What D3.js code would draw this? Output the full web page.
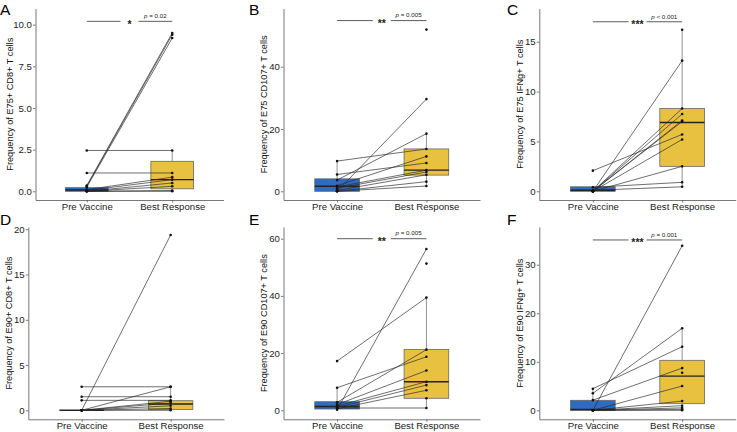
<!DOCTYPE html>
<html>
<head>
<meta charset="utf-8">
<script src="https://cdn.jsdelivr.net/npm/d3@7"></script>
<style>
  html, body { margin: 0; padding: 0; background: #fff; }
  svg { display: block; font-family: "Liberation Sans", Arial, Helvetica, sans-serif; }
</style>
</head>
<body>
<svg id="chart" width="737" height="432"></svg>
<script>
// ---------------- DATA ----------------
const categories = ["Pre Vaccine", "Best Response"];
const panelLetters = ["A", "B", "C", "D", "E", "F"];
const yTitles = [
  "Frequency of E75+ CD8+ T cells",
  "Frequency of E75 CD107+ T cells",
  "Frequency of E75 IFNg+ T cells",
  "Frequency of E90+ CD8+ T cells",
  "Frequency of E90 CD107+ T cells",
  "Frequency of E90 IFNg+ T cells"
];

// paired values per patient (pre vaccine, best response)
const preA  = [2.45, 1.1, 0.35, 0.3, 0.25, 0.1, 0.05, 0, 0, 0, 0];
const bestA = [2.45, 1.1, 9.5, 9.4, 9.2, 0.85, 0.7, 0.5, 0.3, 0.05, 0];
const preB  = [9.7, 5.4, 3.6, 1.8, 1.4, 1.0, 0.3, 0, 0, 0];
const bestB = [13.6, 9.1, 18.5, 11.2, 6.8, 6.2, 5.3, 29.6, 3.1, 1.7];
const preC  = [0, 0, 0, 0, 2.07, 0, 0, 0.4, 0.1, 0];
const bestC = [13.1, 8.3, 7.75, 7.1, 5.7, 5.2, 2.5, 0.9, 0.45, 7.0];
const preD  = [2.6, 1.5, 1.1, 0, 0, 0, 0, 0, 0, 0];
const bestD = [2.6, 1.5, 1.1, 19.37, 2.6, 1.0, 0.8, 0.5, 0.2, 0];
const preE  = [17.2, 7.9, 0.2, 2.8, 2.0, 1.5, 1.0, 0.5, 0.8];
const bestE = [39.4, 18.7, 56.4, 21.2, 13.9, 10.0, 8.8, 7.0, 0.8];
const preF  = [0, 3.5, 4.45, 2.1, 0, 0, 0, 0, 0, 0];
const bestF = [33.9, 16.9, 13.1, 8.7, 5.0, 1.9, 0.95, 0.5, 0.2, 0];

// best-response values without a paired pre value
const unpairedA = [];
const unpairedB = [51.9];
const unpairedC = [16.2];
const unpairedD = [];
const unpairedE = [51.3, 4.2];
const unpairedF = [7.75];

// box statistics [lower whisker, q1, median, q3, upper whisker]
const boxPreA  = [0, 0, 0.08, 0.22, 0.35];
const boxBestA = [0, 0.15, 0.7, 1.8, 2.45];
const boxPreB  = [0, 0, 1.6, 4.0, 9.7];
const boxBestB = [1.7, 5.2, 6.8, 13.6, 18.5];
const boxPreC  = [0, 0, 0.1, 0.45, 0.45];
const boxBestC = [0.45, 2.5, 6.9, 8.3, 16.2];
const boxPreD  = [0, 0, 0, 0, 0];
const boxBestD = [0, 0.1, 0.7, 1.06, 2.6];
const boxPreE  = [0.2, 0.45, 1.3, 3.0, 7.9];
const boxBestE = [0.8, 4.2, 10.0, 21.3, 39.4];
const boxPreF  = [0, 0, 0.15, 2.06, 4.45];
const boxBestF = [0, 1.36, 7.05, 10.3, 16.9];

// y axis ticks / limits
const yTicksA = [0, 2.5, 5, 7.5, 10];
const yTicksB = [0, 20, 40];
const yTicksC = [0, 5, 10, 15];
const yTicksD = [0, 5, 10, 15, 20];
const yTicksE = [0, 20, 40, 60];
const yTicksF = [0, 10, 20, 30];
const yTickDecimals = [1, 0, 0, 0, 0, 0];
const yLimitsA = [-0.522, 10.97];
const yLimitsB = [-2.79, 58.68];
const yLimitsC = [-0.873, 18.33];
const yLimitsD = [-0.994, 20.25];
const yLimitsE = [-3.15, 64.09];
const yLimitsF = [-1.854, 37.77];

// significance annotations
const sigStars   = ["*", "**", "***", null, "**", "***"];
const pRelations = ["=", "=", "<", null, "=", "="];
const pValues    = ["0.02", "0.005", "0.001", null, "0.005", "0.001"];
const sigLevels  = [10.2, 54.8, 17.0, null, 60, 35.1];

// ---------------- LAYOUT ----------------
const pres = [preA, preB, preC, preD, preE, preF];
const bests = [bestA, bestB, bestC, bestD, bestE, bestF];
const unpaired = [unpairedA, unpairedB, unpairedC, unpairedD, unpairedE, unpairedF];
const boxPres = [boxPreA, boxPreB, boxPreC, boxPreD, boxPreE, boxPreF];
const boxBests = [boxBestA, boxBestB, boxBestC, boxBestD, boxBestE, boxBestF];
const yTicks = [yTicksA, yTicksB, yTicksC, yTicksD, yTicksE, yTicksF];
const yLimits = [yLimitsA, yLimitsB, yLimitsC, yLimitsD, yLimitsE, yLimitsF];

const frames = [
  {l: 35.5, r: 223.5, t: 8.5, b: 200},
  {l: 283.5, r: 480, t: 8.5, b: 200},
  {l: 539.3, r: 735.7, t: 8.5, b: 200},
  {l: 28.3, r: 224, t: 227, b: 419.3},
  {l: 283.5, r: 480, t: 227, b: 419.3},
  {l: 539.3, r: 735.7, t: 227, b: 419.3}
];
const letterX = [0, 249, 507, 0, 249, 507];
const letterBaseline = [14.5, 14.5, 14.5, 224.5, 224.5, 224.5];
const titleX = [9.5, 264, 520, 9, 264, 520];

const boxColors = ["#2d6cc0", "#e8c140"];
const svg = d3.select("#chart");

frames.forEach((f, k) => {
  const g = svg.append("g");
  const x = d3.scaleLinear().domain([0.4, 2.6]).range([f.l, f.r]);
  const y = d3.scaleLinear().domain(yLimits[k]).range([f.b, f.t]);
  const bw = (x(2) - x(1)) * 0.5;

  // axes
  const ya = g.append("g").attr("transform", `translate(${f.l},0)`)
    .call(d3.axisLeft(y).tickValues(yTicks[k]).tickSize(2.5).tickSizeOuter(0).tickPadding(1.2)
      .tickFormat(d3.format("." + yTickDecimals[k] + "f")));
  const xa = g.append("g").attr("transform", `translate(0,${f.b})`)
    .call(d3.axisBottom(x).tickValues([1, 2]).tickSize(2.5).tickSizeOuter(0).tickPadding(0.5)
      .tickFormat(d => categories[d - 1]));
  [ya, xa].forEach(a => {
    a.select(".domain").attr("stroke", "#555").attr("stroke-width", 0.8);
    a.selectAll(".tick line").attr("stroke", "#555").attr("stroke-width", 0.8);
    a.selectAll(".tick text").attr("fill", "#222").style("font-size", "9.6px")
      .style("font-family", '"Liberation Sans", Arial, sans-serif');
  });

  // y title
  g.append("text")
    .attr("transform", `translate(${titleX[k]},${(f.t + f.b) / 2}) rotate(-90)`)
    .attr("text-anchor", "middle").attr("dominant-baseline", "central")
    .style("font-size", "9.2px").attr("fill", "#111").text(yTitles[k]);

  // panel letter
  g.append("text").attr("x", letterX[k]).attr("y", letterBaseline[k])
    .style("font-size", "15.5px").attr("fill", "#000").text(panelLetters[k]);

  // boxes
  [boxPres[k], boxBests[k]].forEach((s, i) => {
    const cx = x(i + 1);
    const [lo, q1, med, q3, hi] = s;
    g.append("line").attr("x1", cx).attr("x2", cx).attr("y1", y(q3)).attr("y2", y(hi))
      .attr("stroke", "#777").attr("stroke-width", 0.8);
    g.append("line").attr("x1", cx).attr("x2", cx).attr("y1", y(q1)).attr("y2", y(lo))
      .attr("stroke", "#777").attr("stroke-width", 0.8);
    g.append("rect").attr("x", cx - bw / 2).attr("width", bw)
      .attr("y", y(q3)).attr("height", Math.max(0, y(q1) - y(q3)))
      .attr("fill", boxColors[i]).attr("stroke", "#666").attr("stroke-width", 0.8);
    g.append("line").attr("x1", cx - bw / 2).attr("x2", cx + bw / 2)
      .attr("y1", y(med)).attr("y2", y(med)).attr("stroke", "#222").attr("stroke-width", 1.4);
  });

  // paired lines
  const pr = pres[k], be = bests[k];
  pr.forEach((v, j) => {
    g.append("line").attr("x1", x(1)).attr("y1", y(v)).attr("x2", x(2)).attr("y2", y(be[j]))
      .attr("stroke", "#2a2a2a").attr("stroke-width", 0.75).attr("stroke-opacity", 0.9);
  });
  // points
  const pts = pr.map(v => [1, v]).concat(be.map(v => [2, v])).concat(unpaired[k].map(v => [2, v]));
  g.selectAll("circle.pt").data(pts).enter().append("circle").attr("class", "pt")
    .attr("cx", d => x(d[0])).attr("cy", d => y(d[1])).attr("r", 1.3).attr("fill", "#111");

  // significance
  if (sigStars[k]) {
    const ly = y(sigLevels[k]);
    const x1 = x(1), x2 = x(2), mid = (x1 + x2) / 2, gap = 9;
    g.append("line").attr("x1", x1).attr("x2", mid - gap).attr("y1", ly).attr("y2", ly)
      .attr("stroke", "#333").attr("stroke-width", 0.8);
    g.append("line").attr("x1", mid + gap).attr("x2", x2).attr("y1", ly).attr("y2", ly)
      .attr("stroke", "#333").attr("stroke-width", 0.8);
    g.append("text").attr("x", mid).attr("y", ly + 6.5).attr("text-anchor", "middle")
      .style("font-size", "10.5px").style("font-weight", "bold").attr("fill", "#222")
      .text(sigStars[k]);
    const t = g.append("text").attr("x", (mid + gap + x2) / 2).attr("y", ly - 3.2)
      .attr("text-anchor", "middle").style("font-size", "6.2px").attr("fill", "#222");
    t.append("tspan").style("font-style", "italic").text("p");
    t.append("tspan").text(" " + pRelations[k] + " " + pValues[k]);
  }
});
</script>
</body>
</html>
